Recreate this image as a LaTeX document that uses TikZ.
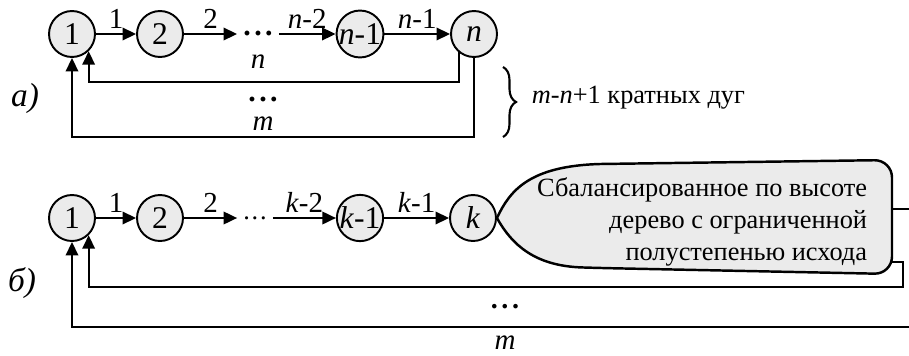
\documentclass[tikz,border=0pt]{standalone}
\usepackage{fontspec}
\setmainfont{Liberation Serif}
\usepackage{tikz}
\usetikzlibrary{positioning,arrows.meta,decorations.pathreplacing}
\definecolor{vfill}{HTML}{EBEBEB}

\begin{document}
\begin{tikzpicture}[x=0.02cm, y=-0.02cm, font=\fontsize{15}{18}\selectfont,
  >={Triangle[length=2.7mm, width=2.5mm]}, line width=1.1pt,
  vert/.style={draw, circle, fill=vfill, minimum size=0.92cm, inner sep=0pt,
               font=\fontsize{18}{18}\selectfont},
  lbl/.style={above=0.6mm, inner sep=1pt, font=\fontsize{16.5}{17}\selectfont},
  gap/.style={inner sep=3pt},
  part/.style={font=\fontsize{19}{19}\selectfont\itshape},
  node distance=4mm]
  \useasboundingbox (0,0) rectangle (909,355);
  % а)
  \node[vert] (a1) at (72,34) {1};
  \node[vert] (a2) at (160,34) {2};
  \node[gap, font=\fontsize{17}{17}\selectfont\bfseries] (adots) at (258,34) {.\hspace{2pt}.\hspace{2pt}.};
  \node[vert] (an1) at (360,34) {\textit{n}-1};
  \node[vert] (an) at (474,34) {\textit{n}};
  \draw[->] (a1) -- node[lbl]{1} (a2);
  \draw[->] (a2) -- node[lbl]{2} (adots);
  \draw[->] (adots) -- node[lbl]{\textit{n}-2} (an1);
  \draw[->] (an1) -- node[lbl]{\textit{n}-1} (an);
  \coordinate (ain) at (0,82);
  \coordinate (aout) at (0,137);
  \draw[->] (an.-130) |- (ain -| a1.-46) -- (a1.-46);
  \draw[->] (an.south) |- (aout -| a1.south) -- (a1.south);
  \node[font=\fontsize{16.5}{17}\selectfont] (lbn) at (258,62) {\textit{n}};
  \node[gap, font=\fontsize{17}{17}\selectfont\bfseries] (adots2) at (263,100) {.\hspace{2pt}.\hspace{2pt}.};
  \node[font=\fontsize{16.5}{17}\selectfont] (lbm) at (263,124) {\textit{m}};
  \coordinate (brt) at (503,67);
  \coordinate (brb) at (503,137);
  \draw[line width=1.2pt, decorate, decoration={brace, amplitude=2.6mm}] (brt) -- (brb);
  \node[anchor=west] (mult) at (525,98) {\textit{m}-\textit{n}+1 кратных дуг};
  \node[part] (pa) at (25,98) {а)};
  % б)
  \node[vert] (b1) at (72,218) {1};
  \node[vert] (b2) at (160,218) {2};
  \node[gap] (bdots) at (255,218) {.\hspace{1pt}.\hspace{1pt}.};
  \node[vert] (bk1) at (360,218) {\textit{k}-1};
  \node[vert] (bk) at (473,218) {\textit{k}};
  \draw[->] (b1) -- node[lbl]{1} (b2);
  \draw[->] (b2) -- node[lbl]{2} (bdots);
  \draw[->] (bdots) -- node[lbl]{\textit{k}-2} (bk1);
  \draw[->] (bk1) -- node[lbl]{\textit{k}-1} (bk);
  \draw[line width=1.4pt, fill=vfill] (bk.east) .. controls (510,190) and (530,166) .. (600,164)
    [rounded corners=3.5mm] -- (892,160) -- (892,274) -- (600,268)
    [sharp corners] .. controls (535,266) and (512,245) .. (bk.east);
  \node[align=right, inner sep=0pt, anchor=east, font=\fontsize{15}{18.1}\selectfont] (tree) at (868,222)
    {Сбалансированное по высоте\\дерево с ограниченной\\полустепенью исхода};
  \coordinate (bup) at (892,209);
  \coordinate (bupend) at (909,209);
  \draw (bup) -- (bupend);
  \coordinate (bin) at (890,262);
  \coordinate (binc) at (903,287);
  \draw[->] (bin) -| (binc) -| (b1.-46);
  \coordinate (bout) at (909,327);
  \draw[->] (bout) -| (b1.south);
  \node[gap, font=\fontsize{16}{16}\selectfont\bfseries] (bdots2) at (505,307) {.\hspace{2pt}.\hspace{2pt}.};
  \node[font=\fontsize{16.5}{17}\selectfont] (bm) at (505,343) {\textit{m}};
  \node[part] (pb) at (22,283) {б)};
\end{tikzpicture}
\end{document}
